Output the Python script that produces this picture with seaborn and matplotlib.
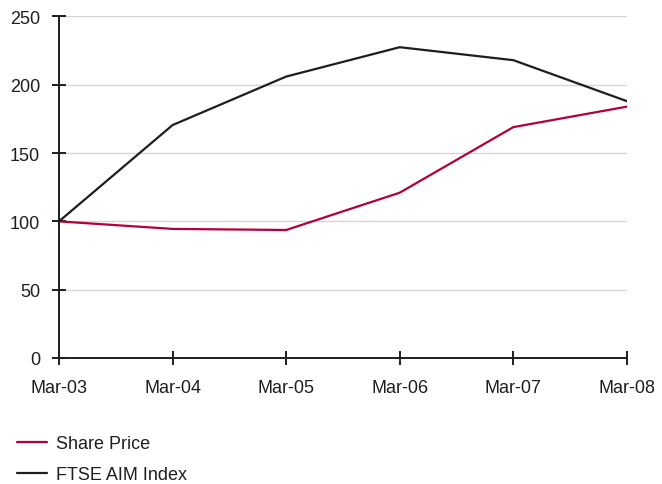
import matplotlib
matplotlib.use("Agg")
import matplotlib.pyplot as plt
import pandas as pd
import seaborn as sns

periods = ["Mar-03", "Mar-04", "Mar-05", "Mar-06", "Mar-07", "Mar-08"]
share_price = [100, 94.5, 93.7, 121, 169, 184]
ftse_aim = [100, 170.5, 206, 227.5, 218, 188]

df = pd.DataFrame({
    "period": list(range(len(periods))) * 2,
    "value": share_price + ftse_aim,
    "series": ["Share Price"] * len(periods) + ["FTSE AIM Index"] * len(periods),
})

sns.set_style("white")
plt.rcParams["font.family"] = ["Liberation Sans", "DejaVu Sans"]

fig = plt.figure(figsize=(6.62, 4.85), dpi=100)
ax = fig.add_axes([0.0891, 0.2598, 0.947 - 0.0891, 0.964 - 0.2598])

palette = {"Share Price": "#b3003b", "FTSE AIM Index": "#1e1e1e"}
sns.lineplot(data=df, x="period", y="value", hue="series", palette=palette,
             linewidth=1.6, ax=ax, legend=False)

ax.set_xlim(0, len(periods) - 1)
ax.set_ylim(0, 250)
ax.set_xticks(range(len(periods)))
ax.set_xticklabels(periods)
ax.set_yticks([0, 50, 100, 150, 200, 250])
ax.yaxis.grid(True, color="#d6d6d6", linewidth=1)
ax.set_axisbelow(True)
ax.set_xlabel("")
ax.set_ylabel("")

for s in ["top", "right"]:
    ax.spines[s].set_visible(False)
for s in ["left", "bottom"]:
    ax.spines[s].set_color("#1e1e1e")
    ax.spines[s].set_linewidth(1.4)
ax.tick_params(axis="both", direction="inout", length=10, width=1.4,
               color="#1e1e1e", labelsize=13, labelcolor="#1e1e1e",
               bottom=True, left=True)
ax.tick_params(axis="x", pad=10)
ax.tick_params(axis="y", pad=8.5)

handles = [plt.Line2D([], [], color=palette[k], linewidth=1.6) for k in palette]
fig.legend(handles, list(palette.keys()), loc="upper left",
           bbox_to_anchor=(21 / 662 - 0.006, 1 - 436 / 485), frameon=False,
           fontsize=13, borderpad=0.0, borderaxespad=0.0,
           handlelength=1.66, handletextpad=0.5, labelspacing=0.78,
           labelcolor="#1e1e1e")

fig.savefig("out.png", dpi=100)
